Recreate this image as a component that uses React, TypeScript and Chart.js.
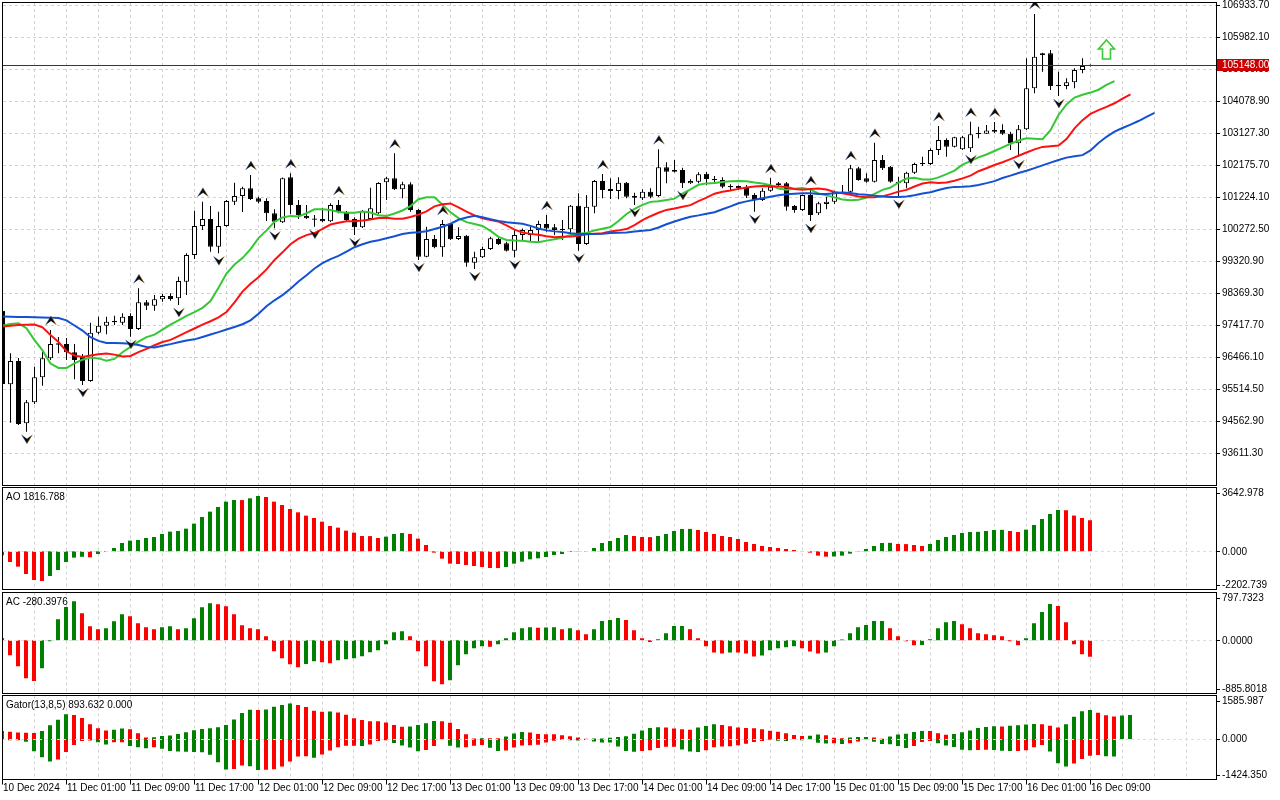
import React, { useEffect, useRef } from "react";
import { Chart, registerables } from "chart.js";

Chart.register(...registerables);

// ---------------- data ----------------
// hourly bars, bar 0 = 10 Dec 2024 17:00, bar 136 = 16 Dec 09:00
const opens = [97842,95653,96346,94494,95118,95862,96427,96873,96852,96605,96495,95752,97188,97396,97527,97485,97685,97298,98092,97991,98181,98279,98211,98705,99499,100361,100569,99745,100361,101084,101253,101482,101185,101105,100739,100471,101810,100986,100659,100569,100569,100500,100986,100786,100569,100323,100569,100739,101661,101780,101453,101601,100837,99448,99975,99728,100421,99975,100073,99270,99430,99677,99975,99847,99627,100094,100094,100241,100421,100323,100271,100262,100965,99826,100935,101700,101462,101402,101649,101253,101185,101380,101253,102107,102027,102027,101630,101679,101918,101759,101729,101536,101551,101521,101283,101134,101411,101580,101630,100956,100837,101283,100739,101015,101084,101334,101380,102078,101780,101679,102324,102125,101679,101630,101946,102226,102205,102621,102919,102720,102642,102672,103127,103108,103216,103216,103108,102821,103237,104456,105447,105498,104555,104525,104635,105001,105129];
const highs = [97922,96575,96435,95186,96177,96673,97268,97060,97030,96852,96554,97485,97664,97664,97693,97765,97765,98508,98160,98309,98339,98360,98853,99549,100816,101084,100956,100786,101134,101649,101530,101878,101233,101185,100858,101804,101928,101134,100986,100688,100897,101036,101134,100807,100620,100837,101500,101661,101827,102523,101679,101661,100867,100340,100094,100540,100450,100323,100094,99597,99745,100043,100043,99894,100241,100289,100340,100519,100688,100421,100540,100986,101334,101283,101729,101908,101780,101810,101670,101352,101453,101482,102642,102256,102324,102095,101749,101958,101968,101848,101810,101601,101566,101580,101334,101482,101789,101670,101670,100986,101298,101432,101084,101233,101411,101580,102176,102125,101928,102839,102473,102146,101827,101976,102244,102422,102672,103335,102969,103017,103038,103463,103314,103365,103454,103386,103166,103365,105349,106666,105515,105595,104949,104754,105052,105349,105164];
const lows = [95573,94511,94443,94244,95067,95612,96376,96575,96376,95802,95633,95731,97140,97140,97417,97417,97069,97268,97863,97842,98110,98140,98012,98309,99380,100241,99597,99549,100340,100986,100777,101134,101036,100510,100293,100452,100718,100569,100569,100340,100470,100479,100739,100489,100094,100303,100540,100718,101134,101432,101185,100786,99350,99430,99698,99448,99945,99945,99151,99082,99410,99647,99796,99603,99430,99945,99894,99894,100191,100094,99945,100094,99627,99796,100739,101185,101164,101155,101185,100986,101134,101185,101224,101630,101953,101491,101610,101630,101580,101639,101482,101411,101432,101194,100786,101105,101380,101530,100816,100754,100807,100510,100688,100858,101015,101313,101352,101708,101649,101655,102027,101649,101233,101482,101908,102146,102176,102473,102422,102696,102621,102562,102969,103097,103127,103068,102621,102413,103216,104308,104949,104406,104228,104427,104456,104903,105105];
const closes = [95662,96346,94473,95118,95862,96427,96852,96831,96605,96376,95752,97188,97396,97515,97506,97664,97298,98092,97991,98181,98279,98190,98725,99499,100361,100569,99745,100361,101105,101253,101482,101164,101084,100739,100489,101780,100986,100688,100590,100560,100500,100986,100786,100540,100323,100807,100888,101640,101780,101453,101601,100837,99448,99975,99728,100421,99966,100064,99270,99430,99677,99995,99826,99627,100094,100241,100241,100421,100289,100241,100253,100965,99826,100935,101700,101432,101402,101649,101233,101203,101380,101233,102107,101976,101976,101630,101700,101899,101759,101729,101530,101530,101482,101262,101134,101411,101530,101630,100935,100837,101283,100688,101036,101084,101380,101380,102078,101729,101679,102324,102078,101679,101630,101946,102205,102214,102621,102919,102721,102999,102999,103088,103097,103198,103166,103108,102821,103237,104456,105396,105498,104525,104525,104635,105001,105120,105148];

// alligator values already on the chart before bar 0 (read at the left edge)
const jawLead = [97670, 97664, 97655, 97655, 97649, 97643, 97637, 97625];
const teethLead = [97372, 97396, 97417, 97426, 97432];
const lipsLead = [97396, 97447, 97467];

// bars carrying a fractal mark
const fractalUpBars = [6, 17, 25, 31, 36, 42, 49, 55, 68, 75, 82, 96, 101, 106, 109, 117, 121, 124, 129];
const fractalDownBars = [3, 10, 16, 22, 27, 34, 39, 44, 52, 59, 64, 72, 79, 85, 94, 101, 112, 121, 127, 132];

// buy-signal arrow object
const signalBars = [138];
const signalPrices = [105330];

const aoValues = [-234,-624,-897,-1325,-1676,-1735,-1442,-1091,-624,-370,-320,-350,-156,-40,195,487,624,663,780,838,1013,1150,1189,1325,1618,2007,2319,2592,2904,3001,2995,3099,3235,3177,2904,2709,2475,2280,2085,1949,1735,1481,1384,1208,1091,897,890,780,858,1013,1072,1013,741,370,-78,-429,-721,-741,-799,-858,-916,-975,-980,-916,-721,-604,-468,-409,-331,-214,-156,-40,-15,-25,195,487,604,780,955,897,838,830,897,1013,1189,1306,1310,1247,1130,1013,897,838,721,546,429,312,253,195,136,78,10,-78,-253,-312,-300,-253,-136,-20,136,312,487,495,429,422,370,312,429,663,838,955,1072,1130,1140,1189,1247,1255,1189,1130,1267,1540,1890,2183,2417,2400,2090,1950,1817];
const acValues = [40,-256,-445,-650,-695,-479,-17,359,570,667,462,239,188,205,325,445,410,291,222,188,222,239,188,205,376,564,633,616,581,445,256,205,188,68,-188,-308,-410,-462,-405,-359,-376,-393,-342,-325,-308,-274,-205,-171,-68,137,154,68,-188,-445,-701,-752,-684,-428,-239,-137,-103,-110,-68,34,137,205,222,215,218,224,190,207,172,103,190,328,345,380,345,172,35,-29,17,121,242,245,190,35,-104,-207,-224,-207,-210,-224,-276,-259,-172,-138,-121,-104,-138,-190,-224,-207,-104,12,121,224,259,328,330,207,69,-17,-86,-80,17,207,310,328,276,207,121,104,86,69,-17,-86,35,293,483,621,586,310,-69,-241,-280];

const priceTicks = [106933.70,105982.10,105030.50,104078.90,103127.30,102175.70,101224.10,100272.50,99320.90,98369.30,97417.70,96466.10,95514.50,94562.90,93611.30];
const currentPrice = 105148.00;
const aoTicks = [3642.978, 0, -2202.739];
const acTicks = [797.7323, 0, -885.8018];
const gatorTicks = [1585.987, 0, -1424.35];
const timeLabels = ["10 Dec 2024","11 Dec 01:00","11 Dec 09:00","11 Dec 17:00","12 Dec 01:00","12 Dec 09:00","12 Dec 17:00","13 Dec 01:00","13 Dec 09:00","13 Dec 17:00","14 Dec 01:00","14 Dec 09:00","14 Dec 17:00","15 Dec 01:00","15 Dec 09:00","15 Dec 17:00","16 Dec 01:00","16 Dec 09:00"];
const timeLabelBars = [0,8,16,24,32,40,48,56,64,72,80,88,96,104,112,120,128,136];

// ---------------- derived series (indicator definitions) ----------------
const median = highs.map((h, i) => (h + lows[i]) / 2);
function smma(lead: number[], period: number): number[] {
  const out = lead.slice();
  let s = lead[lead.length - 1];
  for (const m of median) {
    s = (s * (period - 1) + m) / period;
    out.push(s);
  }
  return out;
}
const jaw = smma(jawLead, 13);
const teeth = smma(teethLead, 8);
const lips = smma(lipsLead, 5);
const gatorUpper = teeth.map((t, j) => Math.abs(jaw[j] - t));
const gatorLower = lips.map((l, j) => -Math.abs(teeth[j] - l));

// ---------------- styling ----------------
const FONT = '10px "Liberation Sans", Arial, sans-serif';
const GREEN = "#008000";
const RED = "#ff0000";
const GRID = "#d2d2d2";
const SPAN = 151.625; // visible bar span of the plot width
const PRICE_PER_PX = 29.7375;

function upDownColors(v: number[], abs = false): string[] {
  return v.map((x, i) => {
    if (i === 0) return RED;
    const a = abs ? Math.abs(x) : x;
    const b = abs ? Math.abs(v[i - 1]) : v[i - 1];
    return a > b ? GREEN : RED;
  });
}

function baseOptions(xMin: number, yMin: number, yMax: number, padding: any) {
  return {
    responsive: false,
    animation: false as const,
    events: [] as any[],
    layout: { padding },
    plugins: { legend: { display: false }, tooltip: { enabled: false }, title: { display: false } },
    scales: {
      x: { type: "linear" as const, display: false, min: xMin, max: xMin + SPAN, offset: false, grid: { display: false } },
      y: { type: "linear" as const, display: false, min: yMin, max: yMax, grid: { display: false } },
    },
  };
}

function hline(ctx: CanvasRenderingContext2D, x1: number, x2: number, y: number) {
  ctx.beginPath(); ctx.moveTo(x1, y); ctx.lineTo(x2, y); ctx.stroke();
}
function vline(ctx: CanvasRenderingContext2D, x: number, y1: number, y2: number) {
  ctx.beginPath(); ctx.moveTo(x, y1); ctx.lineTo(x, y2); ctx.stroke();
}
function verticalGrid(chart: any, top: number, bottom: number) {
  const { ctx, scales } = chart;
  ctx.save();
  ctx.strokeStyle = GRID; ctx.lineWidth = 1; ctx.setLineDash([3, 3]);
  for (let b = 4; b < 200; b += 4) {
    const px = Math.floor(scales.x.getPixelForValue(b)) + 0.5;
    if (px >= 1216) break;
    vline(ctx, px, top, bottom);
  }
  ctx.restore();
}

function drawDart(ctx: CanvasRenderingContext2D, cx: number, edge: number, up: boolean) {
  const h = 9, w = 5.5, n = 4;
  const d = up ? -1 : 1;
  const tipY = edge + d * h;
  ctx.beginPath();
  ctx.moveTo(cx, tipY);
  ctx.lineTo(cx + w, edge);
  ctx.lineTo(cx, edge + d * n);
  ctx.lineTo(cx - w, edge);
  ctx.closePath();
  ctx.fillStyle = "#0d0d0d";
  ctx.fill();
  ctx.lineWidth = 0.8;
  ctx.strokeStyle = "rgba(40,80,200,0.55)";
  ctx.beginPath(); ctx.moveTo(cx - w, edge); ctx.lineTo(cx, tipY); ctx.stroke();
  ctx.strokeStyle = "rgba(220,150,40,0.55)";
  ctx.beginPath(); ctx.moveTo(cx, tipY); ctx.lineTo(cx + w, edge); ctx.stroke();
}

const mainPlugin = {
  id: "mainDecor",
  beforeDatasetsDraw(chart: any) {
    const { ctx, scales } = chart;
    ctx.save();
    ctx.strokeStyle = GRID; ctx.lineWidth = 1; ctx.setLineDash([3, 3]);
    for (const v of priceTicks) {
      const py = Math.round(scales.y.getPixelForValue(v)) + 0.5;
      hline(ctx, 3, 1216, py);
    }
    ctx.restore();
    verticalGrid(chart, 3, 485);
  },
  afterDatasetsDraw(chart: any) {
    const { ctx, scales, chartArea } = chart;
    const x = scales.x, y = scales.y;
    ctx.save();
    ctx.beginPath();
    ctx.rect(chartArea.left, chartArea.top, chartArea.right - chartArea.left, chartArea.bottom - chartArea.top);
    ctx.clip();
    // current price line
    const pp = Math.round(y.getPixelForValue(currentPrice)) + 0.5;
    ctx.strokeStyle = "#6e1f1f"; ctx.lineWidth = 1;
    hline(ctx, 3, 1216, pp);
    // fractals
    for (const b of fractalUpBars) drawDart(ctx, x.getPixelForValue(b) + 0.5, y.getPixelForValue(highs[b]) - 5, true);
    for (const b of fractalDownBars) drawDart(ctx, x.getPixelForValue(b) + 0.5, y.getPixelForValue(lows[b]) + 3, false);
    // buy signal arrow
    signalBars.forEach((b, k) => {
      const cx = x.getPixelForValue(b);
      const bot = y.getPixelForValue(signalPrices[k]);
      const top = bot - 19;
      ctx.beginPath();
      ctx.moveTo(cx, top);
      ctx.lineTo(cx + 8, top + 9);
      ctx.lineTo(cx + 4, top + 9);
      ctx.lineTo(cx + 4, bot);
      ctx.lineTo(cx - 4, bot);
      ctx.lineTo(cx - 4, top + 9);
      ctx.lineTo(cx - 8, top + 9);
      ctx.closePath();
      ctx.fillStyle = "#fbfff0";
      ctx.fill();
      ctx.strokeStyle = "#3fc43f"; ctx.lineWidth = 1.6;
      ctx.stroke();
    });
    ctx.restore();
  },
  afterDraw(chart: any) {
    const { ctx, scales } = chart;
    const y = scales.y;
    ctx.save();
    ctx.strokeStyle = "#000"; ctx.lineWidth = 1;
    ctx.strokeRect(2.5, 2.5, 1214, 483);
    ctx.font = FONT; ctx.fillStyle = "#000"; ctx.textBaseline = "middle"; ctx.textAlign = "left";
    for (const v of priceTicks) {
      const py = y.getPixelForValue(v);
      hline(ctx, 1216, 1220, Math.round(py) + 0.5);
      ctx.fillText(v.toFixed(2), 1222, py + 0.5);
    }
    const cp = y.getPixelForValue(currentPrice);
    ctx.fillStyle = "#cc0000";
    ctx.fillRect(1217, Math.round(cp) - 6, 52, 12);
    ctx.fillStyle = "#fff";
    ctx.fillText(currentPrice.toFixed(2), 1222, Math.round(cp) + 0.5);
    ctx.restore();
  },
};

function indicatorPlugin(title: string, ticks: number[], decimals: number, bTop: number, bBottom: number, withTime: boolean) {
  return {
    id: "indDecor",
    beforeDatasetsDraw(chart: any) {
      verticalGrid(chart, bTop, bBottom);
    },
    afterDatasetsDraw(chart: any) {
      const { ctx, scales } = chart;
      ctx.save();
      ctx.strokeStyle = "#dcdcdc"; ctx.lineWidth = 1; ctx.setLineDash([3, 3]);
      hline(ctx, 3, 1216, Math.round(scales.y.getPixelForValue(0)) + 0.5);
      ctx.restore();
    },
    afterDraw(chart: any) {
      const { ctx, scales } = chart;
      ctx.save();
      ctx.strokeStyle = "#000"; ctx.lineWidth = 1;
      ctx.strokeRect(2.5, bTop, 1214, bBottom - bTop);
      ctx.font = FONT; ctx.fillStyle = "#000"; ctx.textBaseline = "middle"; ctx.textAlign = "left";
      ctx.fillText(title, 6, bTop + 9.5);
      for (const v of ticks) {
        let py = scales.y.getPixelForValue(v);
        py = Math.min(Math.max(py, bTop + 5), bBottom - 5);
        hline(ctx, 1216, 1220, Math.round(py) + 0.5);
        ctx.fillText(v.toFixed(decimals), 1222, py + 0.5);
      }
      if (withTime) {
        timeLabels.forEach((t, k) => {
          const px = scales.x.getPixelForValue(timeLabelBars[k]);
          vline(ctx, Math.floor(px) + 0.5, bBottom, bBottom + 5);
          ctx.fillText(t, px + 1, 94);
        });
      }
      ctx.restore();
    },
  };
}

function histDataset(values: number[], colors: string[]) {
  return {
    type: "bar" as const,
    data: values.map((v, i) => ({ x: i, y: v })),
    backgroundColor: colors,
    barThickness: 4,
    grouped: false,
    borderWidth: 0,
    inflateAmount: 0,
  };
}

export default function App() {
  const mainRef = useRef<HTMLCanvasElement>(null);
  const aoRef = useRef<HTMLCanvasElement>(null);
  const acRef = useRef<HTMLCanvasElement>(null);
  const gRef = useRef<HTMLCanvasElement>(null);

  useEffect(() => {
    const charts: Chart[] = [];
    const idx = opens.map((_, i) => i);
    const minBody = 1.2 * PRICE_PER_PX;
    const bodyData = idx.map((i) => {
      let lo = Math.min(opens[i], closes[i]);
      let hi = Math.max(opens[i], closes[i]);
      if (hi - lo < minBody) {
        const m = (lo + hi) / 2;
        lo = m - minBody / 2; hi = m + minBody / 2;
      }
      return { x: i, y: [lo, hi] };
    });
    const lineDs = (vals: number[], color: string) => ({
      type: "line" as const,
      data: vals.map((v, j) => ({ x: j, y: v })),
      borderColor: color,
      borderWidth: 2,
      pointRadius: 0,
      fill: false,
      tension: 0,
      order: 0,
    });

    const yTop = 106933.7 + 2 * PRICE_PER_PX;
    const yBottom = 106933.7 - 480 * PRICE_PER_PX;

    charts.push(new Chart(mainRef.current!, {
      type: "bar",
      data: {
        datasets: [
          {
            type: "bar",
            data: idx.map((i) => ({ x: i, y: [lows[i], highs[i]] })) as any,
            backgroundColor: "#000",
            barThickness: 1,
            grouped: false,
            borderWidth: 0,
            inflateAmount: 0,
            order: 2,
          } as any,
          {
            type: "bar",
            data: bodyData as any,
            backgroundColor: idx.map((i) => (closes[i] >= opens[i] ? "#ffffff" : "#000000")),
            borderColor: "#000",
            borderWidth: 1,
            borderSkipped: false,
            barThickness: 5,
            grouped: false,
            inflateAmount: 0,
            order: 1,
          } as any,
          lineDs(jaw, "#1450d2") as any,
          lineDs(teeth, "#ff1010") as any,
          lineDs(lips, "#34c834") as any,
        ],
      },
      options: baseOptions(0.0625, yBottom, yTop, { left: 3, right: 64, top: 3, bottom: 2 }) as any,
      plugins: [mainPlugin],
    }));

    charts.push(new Chart(aoRef.current!, {
      type: "bar",
      data: { datasets: [histDataset(aoValues, upDownColors(aoValues)) as any] },
      options: baseOptions(0.125, aoTicks[2], aoTicks[0], { left: 3, right: 64, top: 3, bottom: 1 }) as any,
      plugins: [indicatorPlugin("AO 1816.788", aoTicks, 3, 1.5, 103.5, false)],
    }));

    charts.push(new Chart(acRef.current!, {
      type: "bar",
      data: { datasets: [histDataset(acValues, upDownColors(acValues)) as any] },
      options: baseOptions(0.125, acTicks[2], acTicks[0], { left: 3, right: 64, top: 2.6, bottom: 1.9 }) as any,
      plugins: [indicatorPlugin("AC -280.3976", acTicks, 4, 1.5, 102.5, false)],
    }));

    charts.push(new Chart(gRef.current!, {
      type: "bar",
      data: {
        datasets: [
          histDataset(gatorUpper, upDownColors(gatorUpper)) as any,
          histDataset(gatorLower, upDownColors(gatorLower, true)) as any,
        ],
      },
      options: baseOptions(0.125, gatorTicks[2], gatorTicks[0], { left: 3, right: 64, top: 2.6, bottom: 23.1 }) as any,
      plugins: [indicatorPlugin("Gator(13,8,5) 893.632 0.000", gatorTicks, 3, 1.5, 85.5, true)],
    }));

    return () => charts.forEach((c) => c.destroy());
  }, []);

  const abs = (top: number): React.CSSProperties => ({ position: "absolute", left: 0, top });
  return (
    <div style={{ position: "fixed", left: 0, top: 0, width: 1280, height: 800, background: "#fff", overflow: "hidden" }}>
      <canvas ref={mainRef} width={1280} height={487} style={abs(0)} />
      <canvas ref={aoRef} width={1280} height={104} style={abs(486)} />
      <canvas ref={acRef} width={1280} height={103} style={abs(591)} />
      <canvas ref={gRef} width={1280} height={106} style={abs(694)} />
    </div>
  );
}
